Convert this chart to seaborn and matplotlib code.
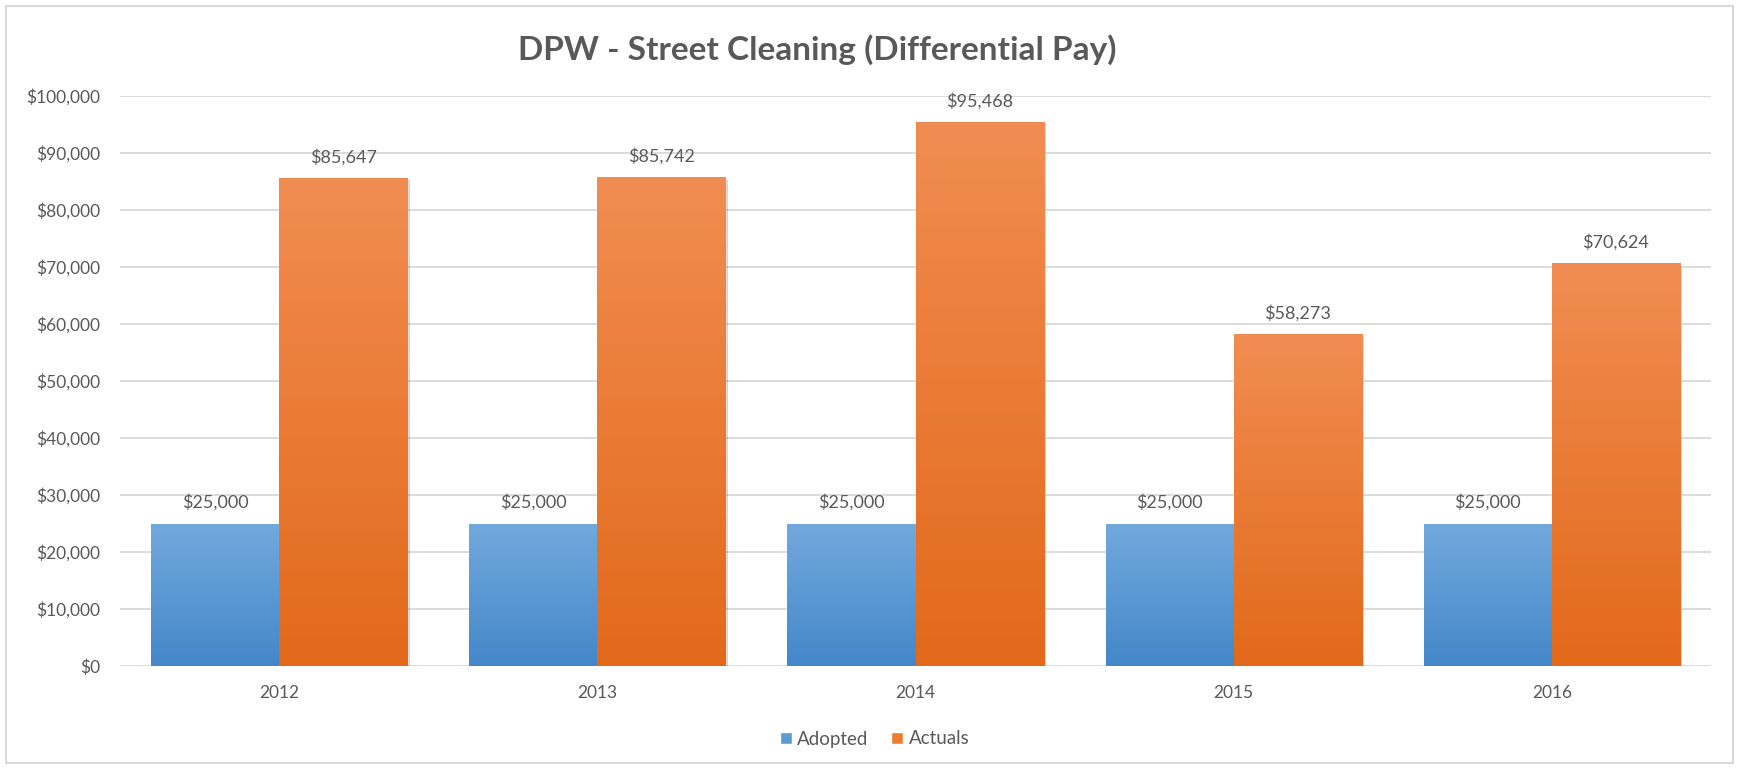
import numpy as np
import pandas as pd
import matplotlib
matplotlib.use("Agg")
import matplotlib.pyplot as plt
import matplotlib.transforms as mtransforms
from matplotlib.colors import LinearSegmentedColormap
from matplotlib.patches import Rectangle
import seaborn as sns

years = ["2012", "2013", "2014", "2015", "2016"]
adopted = [25000, 25000, 25000, 25000, 25000]
actuals = [85647, 85742, 95468, 58273, 70624]
series = ["Adopted", "Actuals"]

df = pd.DataFrame({
    "Year": years * 2,
    "Value": adopted + actuals,
    "Series": ["Adopted"] * len(years) + ["Actuals"] * len(years),
})

txt = "#595959"
grid = "#d9d9d9"
# top / bottom colours of the gradient fill
grads = {
    "Adopted": ("#72a9dd", "#4487c9"),
    "Actuals": ("#f18d52", "#e2691a"),
}
palette = {"Adopted": "#5b9bd5", "Actuals": "#ed7d31"}

sns.set_theme(style="white")
plt.rcParams["font.family"] = ["Lato", "DejaVu Sans"]

fig = plt.figure(figsize=(17.39, 7.69), dpi=100)
ax = fig.add_axes([120 / 1739, 1 - 666 / 769, (1711 - 120) / 1739, (666 - 96) / 769])

sns.barplot(data=df, x="Year", y="Value", hue="Series", hue_order=series,
            palette=palette, width=0.805, ax=ax, legend=False, zorder=3)

ax.set_yticks(np.arange(0, 100001, 10000))
ax.yaxis.set_major_formatter(matplotlib.ticker.FuncFormatter(lambda v, p: f"${v:,.0f}"))
ax.grid(axis="y", color=grid, linewidth=1.3, zorder=0)
ax.set_axisbelow(True)
for s in ax.spines.values():
    s.set_visible(False)
ax.tick_params(axis="both", length=0, labelsize=12.5, colors=txt)
ax.tick_params(axis="y", pad=14)
ax.tick_params(axis="x", pad=14)
ax.set_xlabel("")
ax.set_ylabel("")

# gradient fill + soft shadow on each bar
for name, cont in zip(series, ax.containers):
    cmap = LinearSegmentedColormap.from_list(name, [grads[name][1], grads[name][0]])
    for bar in cont:
        x0, w, h = bar.get_x(), bar.get_width(), bar.get_height()
        sh_tr = mtransforms.offset_copy(ax.transData, fig=fig, x=2.5, y=-2.5, units="dots")
        ax.add_patch(Rectangle((x0, 0), w, h, transform=sh_tr, facecolor="#000000",
                               alpha=0.16, linewidth=0, zorder=2))
        im = ax.imshow(np.linspace(0, 1, 256).reshape(-1, 1), extent=[x0, x0 + w, 0, h],
                       origin="lower", aspect="auto", cmap=cmap, zorder=3.5)
        im.set_clip_path(bar)
    ax.bar_label(cont, labels=[f"${v:,.0f}" for v in cont.datavalues],
                 padding=9, fontsize=13, color=txt)

ax.set_ylim(0, 100000)
ax.set_xlim(-0.5, len(years) - 0.5)

handles = [Rectangle((0, 0), 1, 1, facecolor=palette[s]) for s in series]
fig.legend(handles, series, loc="center", bbox_to_anchor=(0.503, 1 - 739 / 769), ncol=2,
           frameon=False, fontsize=13.5, labelcolor=txt, handlelength=0.65, handleheight=0.65,
           handletextpad=0.3, columnspacing=1.2)

fig.text(0.470, 1 - 50 / 769, "DPW - Street Cleaning (Differential Pay)", ha="center",
         va="center", fontsize=24, fontweight="bold", color=txt)

fig.patches.append(Rectangle((6 / 1739, 6 / 769), 1 - 12 / 1739, 1 - 12 / 769,
                             transform=fig.transFigure, fill=False, edgecolor=grid,
                             linewidth=1.5))

fig.savefig("out.png", dpi=100, facecolor="white")
